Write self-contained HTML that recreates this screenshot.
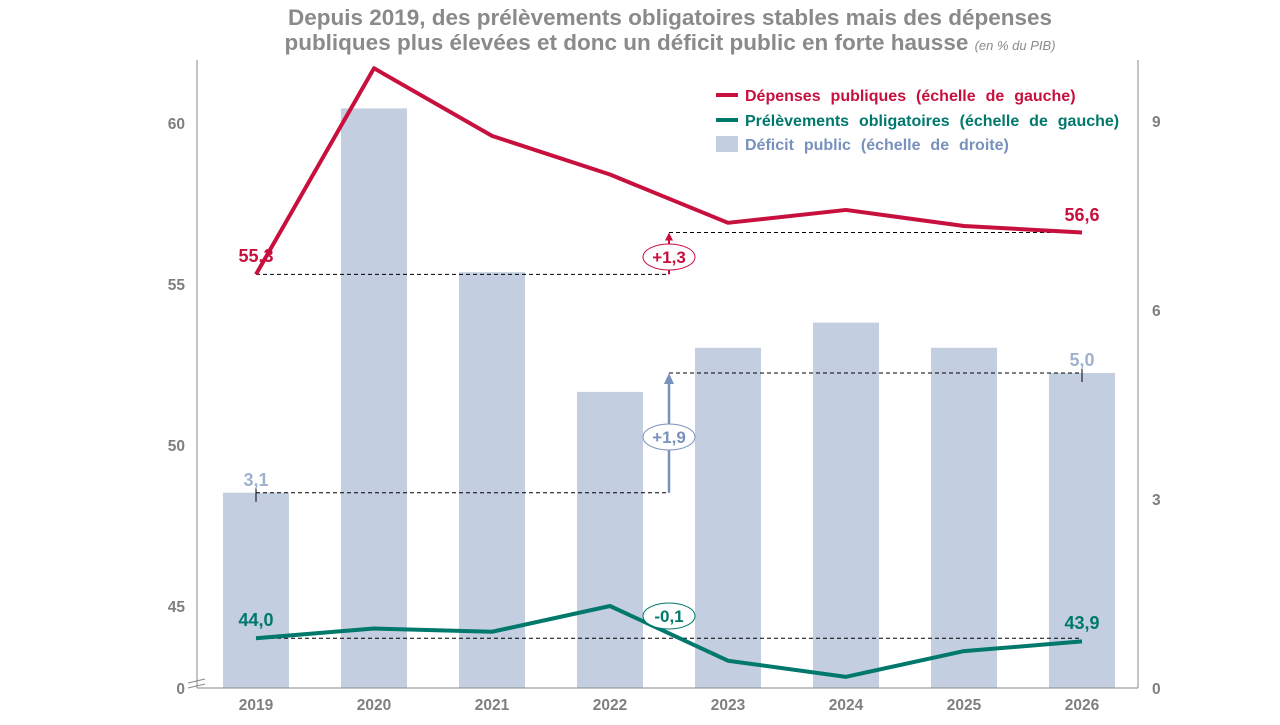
<!DOCTYPE html>
<html><head><meta charset="utf-8">
<style>
body{margin:0;background:#fff;width:1280px;height:720px;overflow:hidden;font-family:"Liberation Sans",sans-serif}
svg text{font-family:"Liberation Sans",sans-serif}
</style></head>
<body>
<svg id="c" width="1280" height="720">
<text x="670" y="25" text-anchor="middle" font-size="22.5" font-weight="bold" fill="#8a8a8a">Depuis 2019, des prélèvements obligatoires stables mais des dépenses</text>
<text x="670" y="50" text-anchor="middle" font-size="22.5" font-weight="bold" fill="#8a8a8a">publiques plus élevées et donc un déficit public en forte hausse <tspan font-size="13" font-weight="normal" font-style="italic">(en % du PIB)</tspan></text>
<g id="plot"></g>
<g>
<line x1="716" y1="95" x2="738" y2="95" stroke="#c8103e" stroke-width="4"/>
<text x="745" y="101" font-size="16" font-weight="bold" fill="#c8103e" word-spacing="5.5">Dépenses publiques (échelle de gauche)</text>
<line x1="716" y1="120" x2="738" y2="120" stroke="#00786c" stroke-width="4"/>
<text x="745" y="126" font-size="16" font-weight="bold" fill="#00786c" word-spacing="5.5">Prélèvements obligatoires (échelle de gauche)</text>
<rect x="716" y="136" width="22" height="16" fill="#c3cee0"/>
<text x="745" y="150" font-size="16" font-weight="bold" fill="#7891bd" word-spacing="5.5">Déficit public (échelle de droite)</text>
</g>
</svg>
<script>
const years=["2019","2020","2021","2022","2023","2024","2025","2026"];
const deficit=[3.1,9.2,6.6,4.7,5.4,5.8,5.4,5.0];
const depenses=[55.3,61.7,59.6,58.4,56.9,57.3,56.8,56.6];
const prelevements=[44.0,44.3,44.2,45.0,43.3,42.8,43.6,43.9];
const leftTicks=[45,50,55,60];
const rightTicks=[0,3,6,9];
const NS="http://www.w3.org/2000/svg";
const g=document.getElementById('plot');
function el(t,a,txt){const e=document.createElementNS(NS,t);for(const k in a)e.setAttribute(k,a[k]);if(txt!==undefined)e.textContent=txt;g.appendChild(e);return e;}
const x=i=>256+i*118.0;
const yL=v=>123+(60-v)*32.2;
const yR=v=>688-v*63;
deficit.forEach((v,i)=>{const r=el('rect',{x:x(i)-33,y:yR(v),width:66,height:688-yR(v),fill:'#c3cee0'});

});
el('line',{x1:197,y1:60,x2:197,y2:688,stroke:'#888'});
el('line',{x1:1138,y1:60,x2:1138,y2:688,stroke:'#888'});
el('line',{x1:197,y1:688,x2:1138,y2:688,stroke:'#888'});
el('line',{x1:188,y1:683,x2:205,y2:679,stroke:'#888'});
el('line',{x1:188,y1:688,x2:205,y2:684,stroke:'#888'});
const tf={'font-size':15.5,'font-weight':'bold',fill:'#7f7f7f'};
leftTicks.forEach(v=>{const t=el('text',Object.assign({x:185,y:yL(v)+6,'text-anchor':'end'},tf),String(v));

});
const z=el('text',Object.assign({x:185,y:694,'text-anchor':'end'},tf),'0');


rightTicks.forEach(v=>{const t=el('text',Object.assign({x:1152,y:yR(v)+6},tf),String(v));

});
years.forEach((yv,i)=>{const t=el('text',Object.assign({x:x(i),y:710,'text-anchor':'middle'},tf),yv);

});
const n=years.length-1, mid=x(3)+59;
const d='4,3';
el('line',{x1:x(0),y1:yL(depenses[0]),x2:mid,y2:yL(depenses[0]),stroke:'#000','stroke-dasharray':d});
el('line',{x1:mid,y1:yL(depenses[n]),x2:x(n),y2:yL(depenses[n]),stroke:'#000','stroke-dasharray':d});
el('line',{x1:x(0),y1:yR(deficit[0]),x2:mid,y2:yR(deficit[0]),stroke:'#000','stroke-dasharray':d});
el('line',{x1:mid,y1:yR(deficit[n]),x2:x(n),y2:yR(deficit[n]),stroke:'#000','stroke-dasharray':d});
el('line',{x1:x(0),y1:yL(prelevements[0]),x2:x(n),y2:yL(prelevements[0]),stroke:'#000','stroke-dasharray':d});
el('line',{x1:mid,y1:yL(depenses[0]),x2:mid,y2:yL(depenses[n])+6,stroke:'#c8103e','stroke-width':2});
el('path',{d:`M${mid-4} ${yL(depenses[n])+8} L${mid} ${yL(depenses[n])} L${mid+4} ${yL(depenses[n])+8}Z`,fill:'#c8103e'});
el('line',{x1:mid,y1:yR(deficit[0]),x2:mid,y2:yR(deficit[n])+8,stroke:'#7891bd','stroke-width':2.5});
el('path',{d:`M${mid-5} ${yR(deficit[n])+11} L${mid} ${yR(deficit[n])} L${mid+5} ${yR(deficit[n])+11}Z`,fill:'#7891bd'});
function line(arr,col,name){const p=el('polyline',{points:arr.map((v,i)=>x(i)+','+yL(v)).join(' '),fill:'none',stroke:col,'stroke-width':4,'stroke-linejoin':'round'});

}
line(depenses,'#c8103e','line-depenses');
line(prelevements,'#00786c','line-prelevements');
function bubble(cx,cy,col,txt,name){el('ellipse',{cx:cx,cy:cy,rx:26,ry:13,fill:'#fff',stroke:col,'stroke-width':1});
const t=el('text',{x:cx,y:cy+6,'text-anchor':'middle','font-size':17,'font-weight':'bold',fill:col},txt);

}
bubble(mid,257,'#c8103e','+1,3','delta-depenses');
bubble(mid,437,'#7891bd','+1,9','delta-deficit');
bubble(mid,616,'#00786c','-0,1','delta-prelevements');
function lab(xx,yy,col,txt,name,anc){const t=el('text',{x:xx,y:yy,'text-anchor':anc||'middle','font-size':18,'font-weight':'bold',fill:col},txt);

}
const f=v=>v.toFixed(1).replace('.',',');
lab(x(0),262,'#c8103e',f(depenses[0]),'label-depenses-2019');
lab(x(n),221,'#c8103e',f(depenses[n]),'label-depenses-2026');
lab(x(0),486,'#9fb1cf',f(deficit[0]),'label-deficit-2019');
lab(x(n),366,'#9fb1cf',f(deficit[n]),'label-deficit-2026');
lab(x(0),626,'#00786c',f(prelevements[0]),'label-prelevements-2019');
lab(x(n),629,'#00786c',f(prelevements[n]),'label-prelevements-2026');
el('line',{x1:x(0),y1:yR(deficit[0])-4,x2:x(0),y2:yR(deficit[0])+9,stroke:'#000'});
el('line',{x1:x(n),y1:yR(deficit[n])-4,x2:x(n),y2:yR(deficit[n])+9,stroke:'#000'});
</script>
</body></html>
